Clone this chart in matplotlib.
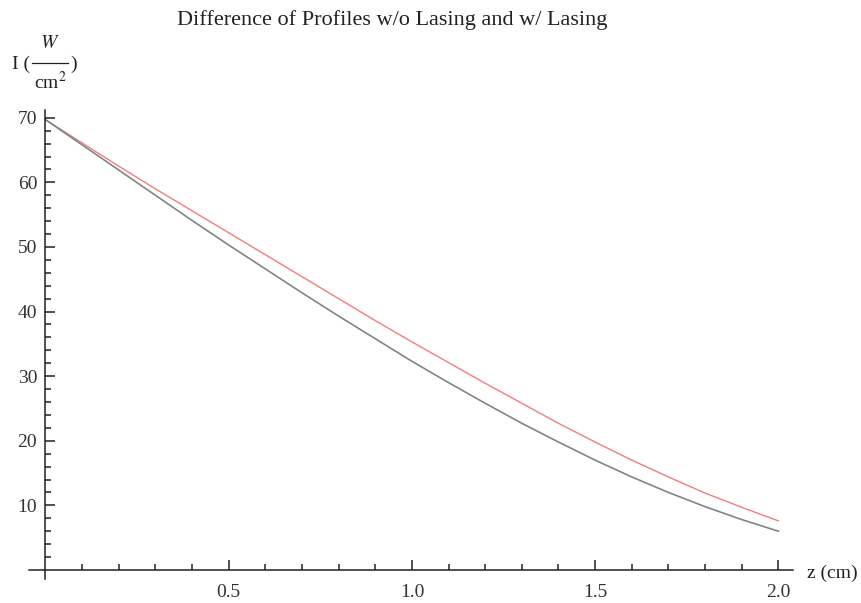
import matplotlib
matplotlib.use('Agg')
import matplotlib.pyplot as plt
import numpy as np

# values
z = [0.0, 0.1, 0.2, 0.3, 0.4, 0.5, 0.6, 0.7, 0.8, 0.9, 1.0,
     1.1, 1.2, 1.3, 1.4, 1.5, 1.6, 1.7, 1.8, 1.9, 2.0]
no_lasing = [69.7, 66.1, 62.5, 59.0, 55.6, 52.2, 48.8, 45.4, 42.0, 38.6, 35.3,
             32.1, 28.9, 25.8, 22.7, 19.8, 17.0, 14.4, 11.9, 9.7, 7.6]
with_lasing = [69.7, 65.8, 61.9, 58.0, 54.1, 50.3, 46.6, 42.9, 39.3, 35.8, 32.3,
               29.0, 25.8, 22.7, 19.8, 17.0, 14.4, 12.0, 9.8, 7.8, 6.0]
x_ticks = [0.5, 1.0, 1.5, 2.0]
y_ticks = [10, 20, 30, 40, 50, 60, 70]

plt.rcParams['font.family'] = ['Liberation Serif', 'DejaVu Serif']
plt.rcParams['mathtext.fontset'] = 'stix'

W, H = 861, 603
fig = plt.figure(figsize=(W / 100, H / 100), dpi=100)
ax = fig.add_axes([29 / W, 24 / H, (793 - 29) / W, (579 - 110) / H])

ax.plot(z, no_lasing, color='#f07c82', lw=1.0)
ax.plot(z, with_lasing, color='#7d8783', lw=1.2)

ax.set_xlim(-0.045, 2.04)
ax.set_ylim(-1.4, 71.2)

ax.spines['left'].set_position(('data', 0))
ax.spines['bottom'].set_position(('data', 0))
ax.spines['right'].set_visible(False)
ax.spines['top'].set_visible(False)
for s in ('left', 'bottom'):
    ax.spines[s].set_linewidth(1.1)
    ax.spines[s].set_color('#222222')

ax.set_xticks(x_ticks)
ax.set_xticklabels(['%.1f' % t for t in x_ticks])
ax.set_xticks(np.arange(0.1, 2.01, 0.1), minor=True)
ax.set_yticks(y_ticks)
ax.set_yticks(np.arange(2, 71, 2), minor=True)

ax.tick_params(which='both', direction='in', color='#222222', width=1.1,
               labelsize=14, labelcolor='#333333')
ax.tick_params(which='major', length=7)
ax.tick_params(which='minor', length=4)
ax.tick_params(axis='x', pad=10)
ax.tick_params(axis='y', pad=6)

fig.text(392 / W, 1 - 20 / H, 'Difference of Profiles w/o Lasing and w/ Lasing',
         ha='center', va='center', fontsize=16, color='#222222')

# y label: I ( W / cm^2 ) drawn as a stacked fraction
fig.text(12 / W, 1 - 64 / H, 'I (', ha='left', va='center', fontsize=14, color='#222222')
fig.text(50 / W, 1 - 44 / H, r'$W$', ha='center', va='center', fontsize=14, color='#222222')
fig.text(50 / W, 1 - 82 / H, r'cm$^2$', ha='center', va='center', fontsize=14, color='#222222')
fig.add_artist(plt.Line2D([32 / W, 68 / W], [1 - 63 / H, 1 - 63 / H],
                          transform=fig.transFigure, color='#222222', lw=0.9))
fig.text(70 / W, 1 - 64 / H, ')', ha='left', va='center', fontsize=14, color='#222222')

fig.text(807 / W, 1 - 573 / H, 'z (cm)', ha='left', va='center',
         fontsize=14, color='#222222')

plt.savefig('out.png', dpi=100)
